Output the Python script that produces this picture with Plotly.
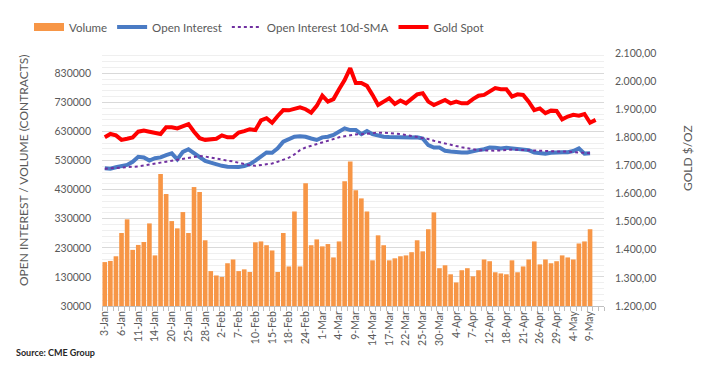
import plotly.graph_objects as go

dates = [
    "3-Jan", "4-Jan", "5-Jan", "6-Jan", "7-Jan", "10-Jan", "11-Jan", "12-Jan", "13-Jan", "14-Jan",
    "18-Jan", "19-Jan", "20-Jan", "21-Jan", "24-Jan", "25-Jan", "26-Jan", "27-Jan", "28-Jan", "31-Jan",
    "1-Feb", "2-Feb", "3-Feb", "4-Feb", "7-Feb", "8-Feb", "9-Feb", "10-Feb", "11-Feb", "14-Feb",
    "15-Feb", "16-Feb", "17-Feb", "18-Feb", "22-Feb", "23-Feb", "24-Feb", "25-Feb", "28-Feb",
    "1-Mar", "2-Mar", "3-Mar", "4-Mar", "7-Mar", "8-Mar", "9-Mar", "10-Mar", "11-Mar", "14-Mar",
    "15-Mar", "16-Mar", "17-Mar", "18-Mar", "21-Mar", "22-Mar", "23-Mar", "24-Mar", "25-Mar",
    "28-Mar", "29-Mar", "30-Mar", "31-Mar",
    "1-Apr", "4-Apr", "5-Apr", "6-Apr", "7-Apr", "8-Apr", "11-Apr", "12-Apr", "13-Apr", "14-Apr",
    "18-Apr", "19-Apr", "20-Apr", "21-Apr", "22-Apr", "25-Apr", "26-Apr", "27-Apr", "28-Apr", "29-Apr",
    "2-May", "3-May", "4-May", "5-May", "6-May", "9-May", "10-May", "11-May",
]

volume = [
    181000, 185000, 201000, 281000, 328000, 223000, 240000, 250000, 314000, 204000,
    484000, 415000, 322000, 297000, 353000, 281000, 439000, 422000, 256000, 150000,
    135000, 130000, 177000, 190000, 150000, 156000, 147000, 249000, 252000, 239000,
    221000, 147000, 281000, 166000, 355000, 166000, 452000, 239000, 259000, 235000,
    243000, 197000, 252000, 459000, 527000, 428000, 400000, 355000, 187000, 273000,
    239000, 187000, 194000, 201000, 204000, 215000, 256000, 218000, 294000, 352000,
    160000, 170000, 139000, 111000, 153000, 160000, 132000, 153000, 190000, 184000,
    146000, 142000, 139000, 187000, 146000, 166000, 190000, 252000, 173000, 190000,
    177000, 184000, 204000, 197000, 190000, 245000, 252000, 294000,
]

open_interest = [
    504000, 502000, 507000, 512000, 515000, 526000, 543000, 541000, 530000, 538000,
    541000, 549000, 555000, 534000, 560000, 569000, 555000, 540000, 529000, 523000,
    517000, 512000, 509000, 508000, 508000, 511000, 518000, 530000, 543000, 558000,
    557000, 572000, 595000, 604000, 612000, 614000, 612000, 606000, 601000, 610000,
    612000, 618000, 629000, 641000, 635000, 635000, 621000, 632000, 621000, 616000,
    612000, 611000, 610000, 609000, 608000, 609000, 610000, 606000, 583000, 575000,
    575000, 564000, 561000, 558000, 558000, 558000, 563000, 566000, 569000, 575000,
    574000, 572000, 574000, 572000, 571000, 569000, 566000, 558000, 555000, 554000,
    557000, 559000, 559000, 559000, 563000, 572000, 554000, 555000,
]

oi_sma10 = [
    502000, 503000, 505000, 507000, 508000, 508000, 510000, 513000, 517000, 520000,
    523000, 526000, 529000, 532000, 535000, 539000, 543000, 546000, 544000, 540000,
    537000, 534000, 530000, 527000, 522000, 518000, 514000, 512000, 514000, 517000,
    520000, 526000, 532000, 540000, 551000, 566000, 575000, 581000, 587000, 594000,
    600000, 605000, 610000, 614000, 618000, 620000, 621000, 623000, 625000, 626000,
    626000, 625000, 624000, 621000, 618000, 615000, 612000, 609000, 604000, 598000,
    593000, 589000, 584000, 580000, 576000, 572000, 569000, 566000, 565000, 564000,
    564000, 565000, 567000, 568000, 567000, 566000, 566000, 565000, 564000, 562000,
    562000, 561000, 561000, 561000, 560000, 558000, 556000, 555000,
]

gold_spot = [
    1800, 1812, 1807, 1791, 1795, 1800, 1820, 1824, 1820, 1817,
    1812, 1836, 1836, 1832, 1840, 1847, 1820, 1797, 1791, 1793,
    1795, 1807, 1800, 1800, 1817, 1822, 1829, 1826, 1860, 1868,
    1852, 1876, 1897, 1896, 1903, 1907, 1900, 1888, 1912, 1948,
    1927, 1936, 1971, 2004, 2046, 1993, 1993, 1983, 1951, 1915,
    1927, 1939, 1919, 1931, 1921, 1939, 1953, 1957, 1927, 1915,
    1924, 1933, 1921, 1927, 1921, 1921, 1936, 1948, 1951, 1963,
    1975, 1971, 1971, 1945, 1953, 1951, 1927, 1897, 1903, 1886,
    1895, 1894, 1864, 1874, 1880, 1877, 1883, 1852, 1862,
]

left_ticks = [30000, 130000, 230000, 330000, 430000, 530000, 630000, 730000, 830000]
right_ticks = [1200, 1300, 1400, 1500, 1600, 1700, 1800, 1900, 2000, 2100]
right_ticktext = ["1.200,00", "1.300,00", "1.400,00", "1.500,00", "1.600,00",
                  "1.700,00", "1.800,00", "1.900,00", "2.000,00", "2.100,00"]
label_every = 3

FONT = "Lato, Carlito, 'Liberation Sans', Arial, sans-serif"
GREY = "#595959"
ORANGE = "#F79646"

fig = go.Figure()
fig.add_trace(go.Bar(
    x=dates[:len(volume)], y=volume, name="Volume", showlegend=False,
    marker=dict(color=ORANGE, line=dict(width=0)), yaxis="y",
))
# legend entry for the volume bars (wide rectangular swatch like the original)
fig.add_trace(go.Scatter(
    x=[None], y=[None], name="Volume", mode="lines",
    line=dict(color=ORANGE, width=8), yaxis="y", hoverinfo="skip",
))
fig.add_trace(go.Scatter(
    x=dates[:len(open_interest)], y=open_interest, name="Open Interest", mode="lines",
    line=dict(color="#4A7BC4", width=4), yaxis="y",
))
fig.add_trace(go.Scatter(
    x=dates[:len(oi_sma10)], y=oi_sma10, name="Open Interest 10d-SMA", mode="lines",
    line=dict(color="#7030A0", width=2, dash="dot"), yaxis="y",
))
fig.add_trace(go.Scatter(
    x=dates[:len(gold_spot)], y=gold_spot, name="Gold Spot", mode="lines",
    line=dict(color="#FF0000", width=4), yaxis="y2",
))

ticktext = [d if i % label_every == 0 and i < len(volume) else "" for i, d in enumerate(dates)]

fig.update_layout(
    width=706, height=374,
    margin=dict(l=102, r=102, t=53, b=68, autoexpand=False),
    paper_bgcolor="white", plot_bgcolor="white",
    font=dict(family=FONT, color=GREY, size=11),
    bargap=0.17,
    showlegend=True,
    legend=dict(
        orientation="h", x=(259 - 102) / 502, xanchor="center", y=(306 - 27) / 253, yanchor="middle",
        font=dict(size=11.5, color=GREY, family=FONT), itemwidth=30,
        bgcolor="rgba(0,0,0,0)", tracegroupgap=0,
    ),
    xaxis=dict(
        type="category", categoryorder="array", categoryarray=dates,
        range=[-0.5, len(dates) - 0.5],
        tickmode="array", tickvals=dates, ticktext=ticktext,
        tickangle=-90, tickfont=dict(size=10.5, color=GREY),
        ticks="outside", tickson="boundaries", ticklen=4, tickcolor="#BFBFBF",
        showline=True, linecolor="#BFBFBF", linewidth=1,
        showgrid=False, zeroline=False,
    ),
    yaxis=dict(
        range=[30000, 900000], tickmode="array", tickvals=left_ticks,
        ticktext=[str(v) for v in left_ticks],
        tickfont=dict(size=10.5, color=GREY),
        showgrid=True, gridcolor="#D9D9D9", gridwidth=1,
        minor=dict(dtick=20000, tick0=30000, showgrid=True, gridcolor="#EFEFEF", gridwidth=1),
        zeroline=False, showline=False, ticks="", ticklabelstandoff=10,
    ),
    yaxis2=dict(
        range=[1200, 2100], overlaying="y", side="right",
        tickmode="array", tickvals=right_ticks, ticktext=right_ticktext,
        tickfont=dict(size=10.5, color=GREY),
        showgrid=False, zeroline=False, showline=False, ticks="", ticklabelstandoff=10,
    ),
    annotations=[
        dict(text="OPEN INTEREST / VOLUME (CONTRACTS)", textangle=-90,
             xref="paper", yref="paper", x=(23 - 102) / 502, y=(306 - 170) / 253,
             xanchor="center", yanchor="middle", showarrow=False,
             font=dict(size=12, color=GREY)),
        dict(text="GOLD $/OZ", textangle=-90,
             xref="paper", yref="paper", x=(687 - 102) / 502, y=(306 - 158) / 253,
             xanchor="center", yanchor="middle", showarrow=False,
             font=dict(size=12, color=GREY)),
        dict(text="<b>Source: CME Group</b>",
             xref="paper", yref="paper", x=(14 - 102) / 502, y=(306 - 352) / 253,
             xanchor="left", yanchor="middle", showarrow=False,
             font=dict(size=9, color="#262626")),
    ],
)

fig.write_html("out.html", config={"displayModeBar": False},
               post_script="document.body.style.margin='0';")
